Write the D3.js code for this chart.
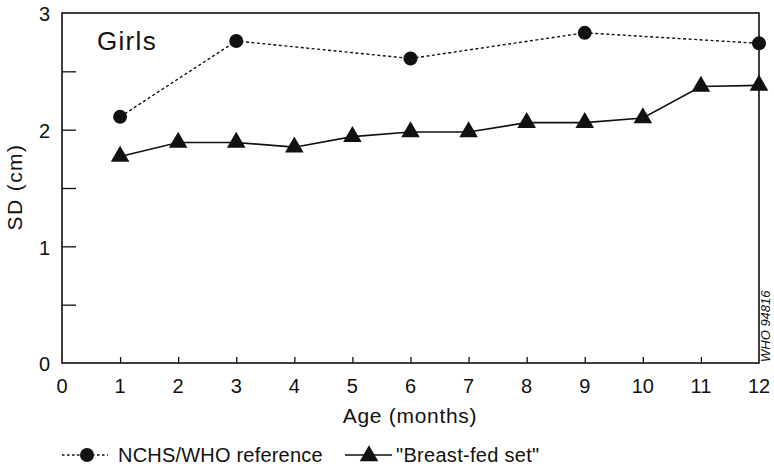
<!DOCTYPE html>
<html>
<head>
<meta charset="utf-8">
<script src="https://cdn.jsdelivr.net/npm/d3@7"></script>
<style>
  html, body { margin: 0; padding: 0; background: #fff; }
  svg { display: block; }
  text { font-family: "Liberation Sans", Arial, Helvetica, sans-serif; fill: #111; }
</style>
</head>
<body>
<script>
// SD of length by age, girls
const nchsMonths = [1, 3, 6, 9, 12];
const nchsSD = [2.11, 2.76, 2.61, 2.83, 2.74];

const bfMonths = [1, 2, 3, 4, 5, 6, 7, 8, 9, 10, 11, 12];
const bfSD = [1.77, 1.89, 1.89, 1.85, 1.94, 1.98, 1.98, 2.06, 2.06, 2.10, 2.37, 2.38];

const xTicks = [0, 1, 2, 3, 4, 5, 6, 7, 8, 9, 10, 11, 12];
const yLabelTicks = [0, 1, 2, 3];
const yMinorTicks = [0.5, 1, 1.5, 2, 2.5];

const W = 774, H = 471;
const m = { left: 62, right: 15, top: 13, bottom: 108 };

const svg = d3.select("body").append("svg").attr("width", W).attr("height", H);

const x = d3.scaleLinear().domain([0, 12]).range([m.left, W - m.right]);
const y = d3.scaleLinear().domain([0, 3]).range([H - m.bottom, m.top]);

// frame: left + bottom axes, top and right border
svg.append("rect")
  .attr("x", x(0)).attr("y", y(3))
  .attr("width", x(12) - x(0)).attr("height", y(0) - y(3))
  .attr("fill", "none").attr("stroke", "#111").attr("stroke-width", 1.6);

// y axis: inward ticks, labels at whole numbers
const yAxis = d3.axisLeft(y).tickValues(yMinorTicks).tickSize(-14).tickFormat("");
svg.append("g").attr("transform", `translate(${x(0)},0)`).call(yAxis)
  .call(g => g.select(".domain").remove())
  .call(g => g.selectAll("line").attr("stroke", "#111").attr("stroke-width", 1.3));

svg.append("g").selectAll("text").data(yLabelTicks).join("text")
  .attr("x", x(0) - 12).attr("y", d => y(d) + 1).attr("dy", "0.36em")
  .attr("text-anchor", "end").attr("font-size", 20).text(d => d);

// x axis: short inward ticks
const xAxis = d3.axisBottom(x).tickValues(xTicks.slice(1, 12)).tickSize(-6).tickFormat("");
svg.append("g").attr("transform", `translate(0,${y(0)})`).call(xAxis)
  .call(g => g.select(".domain").remove())
  .call(g => g.selectAll("line").attr("stroke", "#111").attr("stroke-width", 1.3));

svg.append("g").selectAll("text").data(xTicks).join("text")
  .attr("x", d => x(d)).attr("y", y(0) + 23).attr("dy", "0.36em")
  .attr("text-anchor", "middle").attr("font-size", 20).text(d => d);

// axis titles
svg.append("text").attr("x", 410).attr("y", 423)
  .attr("text-anchor", "middle").attr("font-size", 21).attr("letter-spacing", 0.7)
  .text("Age (months)");
svg.append("text")
  .attr("transform", `translate(22,187) rotate(-90)`)
  .attr("text-anchor", "middle").attr("font-size", 21).attr("letter-spacing", 1.4)
  .text("SD (cm)");

svg.append("text").attr("x", 97).attr("y", 50).attr("font-size", 26)
  .attr("letter-spacing", 1.3).text("Girls");

// series
const line = d3.line().x(d => x(d[0])).y(d => y(d[1]));
const nchs = nchsMonths.map((d, i) => [d, nchsSD[i]]);
const bf = bfMonths.map((d, i) => [d, bfSD[i]]);

svg.append("path").datum(nchs).attr("d", line)
  .attr("fill", "none").attr("stroke", "#111").attr("stroke-width", 1.4)
  .attr("stroke-dasharray", "3,2.5");
svg.append("g").selectAll("circle").data(nchs).join("circle")
  .attr("cx", d => x(d[0])).attr("cy", d => y(d[1])).attr("r", 7).attr("fill", "#111");

svg.append("path").datum(bf).attr("d", line)
  .attr("fill", "none").attr("stroke", "#111").attr("stroke-width", 1.6);
const tri = d3.symbol().type(d3.symbolTriangle).size(150);
svg.append("g").selectAll("path").data(bf).join("path")
  .attr("transform", d => `translate(${x(d[0])},${y(d[1])})`)
  .attr("d", tri).attr("fill", "#111");

// legend
const ly = 455;
svg.append("line").attr("x1", 62).attr("x2", 108).attr("y1", ly).attr("y2", ly)
  .attr("stroke", "#111").attr("stroke-width", 1.4).attr("stroke-dasharray", "2.5,2.5");
svg.append("circle").attr("cx", 87).attr("cy", ly).attr("r", 7).attr("fill", "#111");
svg.append("text").attr("x", 118).attr("y", ly).attr("dy", "0.36em")
  .attr("font-size", 20).attr("letter-spacing", 0.2).text("NCHS/WHO reference");

svg.append("line").attr("x1", 345).attr("x2", 392).attr("y1", ly).attr("y2", ly)
  .attr("stroke", "#111").attr("stroke-width", 1.6);
svg.append("path").attr("transform", `translate(369,${ly + 1})`).attr("d", tri).attr("fill", "#111");
svg.append("text").attr("x", 396).attr("y", ly).attr("dy", "0.36em")
  .attr("font-size", 20).attr("letter-spacing", 0.3).text("\"Breast-fed set\"");

// figure code
svg.append("text")
  .attr("transform", `translate(770,${y(0) - 1}) rotate(-90)`)
  .attr("font-size", 13).attr("font-style", "italic").text("WHO 94816");
</script>
</body>
</html>
